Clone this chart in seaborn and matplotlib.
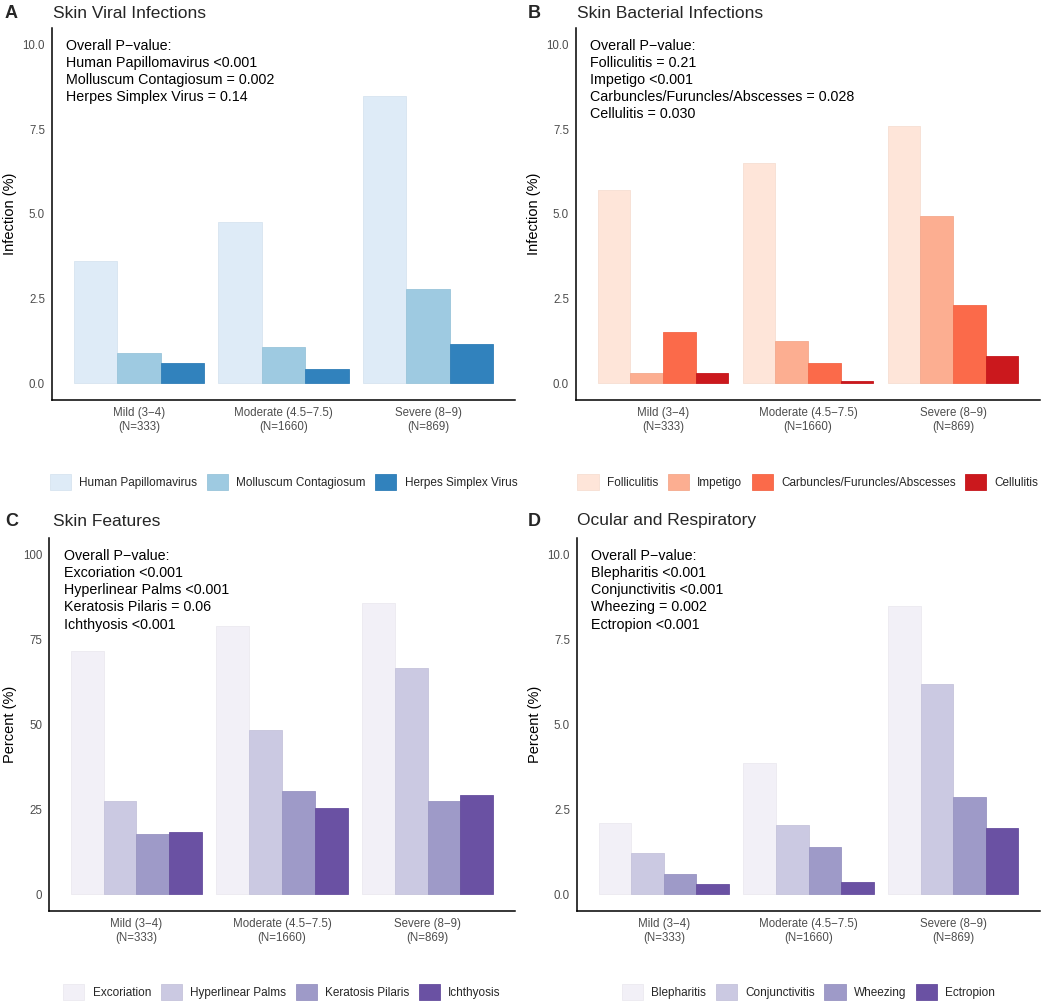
import pandas as pd
import seaborn as sns
import matplotlib.pyplot as plt

# Categories on the x axis
severity = ["Mild (3\u22124)\n(N=333)", "Moderate (4.5\u22127.5)\n(N=1660)", "Severe (8\u22129)\n(N=869)"]

# Panel A - viral infections (%)
viral_names = ["Human Papillomavirus", "Molluscum Contagiosum", "Herpes Simplex Virus"]
hpv = [3.6, 4.75, 8.5]
molluscum = [0.9, 1.08, 2.77]
hsv = [0.6, 0.41, 1.15]
viral_colors = ["#deebf7", "#9ecae1", "#3182bd"]

# Panel B - bacterial infections (%)
bact_names = ["Folliculitis", "Impetigo", "Carbuncles/Furuncles/Abscesses", "Cellulitis"]
folliculitis = [5.7, 6.5, 7.6]
impetigo = [0.3, 1.25, 4.95]
carbuncles = [1.5, 0.6, 2.3]
cellulitis = [0.3, 0.06, 0.8]
bact_colors = ["#fee5d9", "#fcae91", "#fb6a4a", "#cb181d"]

# Panel C - skin features (%)
feat_names = ["Excoriation", "Hyperlinear Palms", "Keratosis Pilaris", "Ichthyosis"]
excoriation = [71.8, 79.0, 85.7]
hyperlinear = [27.5, 48.3, 66.7]
keratosis = [17.6, 30.5, 27.3]
ichthyosis = [18.2, 25.3, 29.3]

# Panel D - ocular and respiratory (%)
ocular_names = ["Blepharitis", "Conjunctivitis", "Wheezing", "Ectropion"]
blepharitis = [2.1, 3.85, 8.5]
conjunctivitis = [1.2, 2.05, 6.2]
wheezing = [0.6, 1.38, 2.87]
ectropion = [0.3, 0.36, 1.95]
purple_colors = ["#f2f0f7", "#cbc9e2", "#9e9ac8", "#6a51a3"]

sns.set_style("white")
plt.rcParams['font.family'] = ['Liberation Sans', 'DejaVu Sans']

W, H = 1044, 1007
fig = plt.figure(figsize=(W / 100, H / 100), dpi=100)


def px_axes(left, top, right, bottom):
    return fig.add_axes([left / W, 1 - bottom / H, (right - left) / W, (bottom - top) / H])


def long_df(names, series):
    rows = []
    for name, vals in zip(names, series):
        for sev, v in zip(severity, vals):
            rows.append({"severity": sev, "condition": name, "value": v})
    return pd.DataFrame(rows)


panels = [
    dict(box=(52, 28, 515, 400), tag="A", tag_x=5, title_x=53, title_y=13, title="Skin Viral Infections",
         names=viral_names, series=[hpv, molluscum, hsv], colors=viral_colors,
         ylabel="Infection (%)", ymax=10, ticks=[0, 2.5, 5, 7.5, 10], fmt="{:.1f}",
         note="Overall P\u2212value:\nHuman Papillomavirus <0.001\nMolluscum Contagiosum = 0.002\nHerpes Simplex Virus = 0.14",
         leg_y=482),
    dict(box=(576, 28, 1040, 400), tag="B", tag_x=528, title_x=577, title_y=13, title="Skin Bacterial Infections",
         names=bact_names, series=[folliculitis, impetigo, carbuncles, cellulitis], colors=bact_colors,
         ylabel="Infection (%)", ymax=10, ticks=[0, 2.5, 5, 7.5, 10], fmt="{:.1f}",
         note="Overall P\u2212value:\nFolliculitis = 0.21\nImpetigo <0.001\nCarbuncles/Furuncles/Abscesses = 0.028\nCellulitis = 0.030",
         leg_y=482),
    dict(box=(49, 538, 515, 911), tag="C", tag_x=5, title_x=53, title_y=521, title="Skin Features",
         names=feat_names, series=[excoriation, hyperlinear, keratosis, ichthyosis], colors=purple_colors,
         ylabel="Percent (%)", ymax=100, ticks=[0, 25, 50, 75, 100], fmt="{:.0f}",
         note="Overall P\u2212value:\nExcoriation <0.001\nHyperlinear Palms <0.001\nKeratosis Pilaris = 0.06\nIchthyosis <0.001",
         leg_y=992),
    dict(box=(577, 538, 1040, 911), tag="D", tag_x=528, title_x=577, title_y=521, title="Ocular and Respiratory",
         names=ocular_names, series=[blepharitis, conjunctivitis, wheezing, ectropion], colors=purple_colors,
         ylabel="Percent (%)", ymax=10, ticks=[0, 2.5, 5, 7.5, 10], fmt="{:.1f}",
         note="Overall P\u2212value:\nBlepharitis <0.001\nConjunctivitis <0.001\nWheezing = 0.002\nEctropion <0.001",
         leg_y=992),
]

for p in panels:
    ax = px_axes(*p["box"])
    df = long_df(p["names"], p["series"])
    sns.barplot(data=df, x="severity", y="value", hue="condition", palette=p["colors"],
                width=0.9, ax=ax, saturation=1, linewidth=0.6)
    for patch in ax.patches:
        fc = patch.get_facecolor()
        patch.set_edgecolor((fc[0] * 0.97, fc[1] * 0.97, fc[2] * 0.97, 1))

    ymax = p["ymax"]
    ax.set_ylim(-0.05 * ymax, 1.05 * ymax)
    ax.set_xlim(-0.6, 2.6)
    ax.set_yticks(p["ticks"])
    ax.set_yticklabels([p["fmt"].format(t) for t in p["ticks"]])
    ax.set_xlabel("")
    ax.set_ylabel(p["ylabel"], fontsize=10.5, color="black", labelpad=4)
    ax.tick_params(axis="both", labelsize=8.3, labelcolor="#4d4d4d", color="#333333",
                   length=3, width=0.8, direction="out", pad=2)
    for s in ["top", "right"]:
        ax.spines[s].set_visible(False)
    for s in ["left", "bottom"]:
        ax.spines[s].set_color("black")
        ax.spines[s].set_linewidth(1.1)

    ax.text(-0.5, 1.017 * ymax, p["note"], ha="left", va="top", fontsize=10.3,
            color="black", linespacing=1.28)

    handles, labels = ax.get_legend_handles_labels()
    ax.get_legend().remove()
    l, t, r, b = p["box"]
    cx = ((l + r) / 2) / W
    cy = 1 - p["leg_y"] / H
    fig.legend(handles, labels, loc="center", bbox_to_anchor=(cx, cy), ncol=len(labels),
               frameon=False, fontsize=8.5, handlelength=1.8, handleheight=1.8,
               handletextpad=0.7, columnspacing=0.8)

    fig.text(p["tag_x"] / W, 1 - p["title_y"] / H, p["tag"], fontsize=13,
             fontweight="bold", ha="left", va="center")
    fig.text(p["title_x"] / W, 1 - p["title_y"] / H, p["title"], fontsize=12.5,
             ha="left", va="center")

fig.savefig("out.png", dpi=100)
plt.close(fig)
